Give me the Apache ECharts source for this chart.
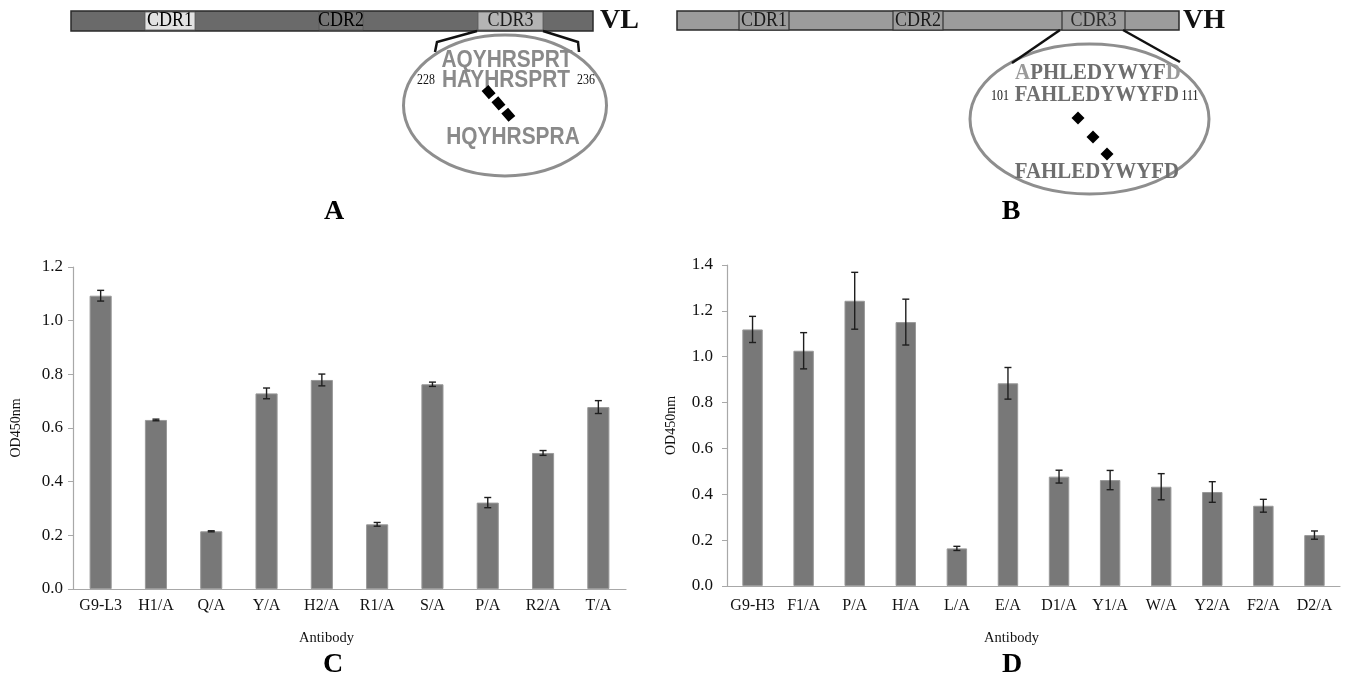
<!DOCTYPE html>
<html><head><meta charset="utf-8">
<script src="https://cdn.jsdelivr.net/npm/echarts@6/dist/echarts.min.js"></script>
<style>html,body{margin:0;padding:0;background:#fff}#c{width:1350px;height:683px}</style>
</head><body><div id="c"></div>
<script>
// Panel C data
const catsC = ['G9-L3','H1/A','Q/A','Y/A','H2/A','R1/A','S/A','P/A','R2/A','T/A'];
const valsC = [1.093,0.630,0.215,0.729,0.779,0.241,0.763,0.322,0.507,0.678];
const errC  = [0.020,0.003,0.002,0.020,0.022,0.007,0.008,0.019,0.009,0.024];
// Panel D data
const catsD = ['G9-H3','F1/A','P/A','H/A','L/A','E/A','D1/A','Y1/A','W/A','Y2/A','F2/A','D2/A'];
const valsD = [1.119,1.026,1.244,1.151,0.164,0.884,0.477,0.462,0.433,0.410,0.350,0.222];
const errD  = [0.057,0.079,0.124,0.100,0.009,0.069,0.028,0.042,0.057,0.045,0.028,0.018];
// Diagram texts
const vlSeqs = ['AQYHRSPRT','HAYHRSPRT','HQYHRSPRA'];
const vhSeqs = ['APHLEDYWYFD','FAHLEDYWYFD','FAHLEDYWYFD'];

const serif = "'Liberation Serif','Times New Roman',serif";
const sans = "'Liberation Sans',Arial,sans-serif";
const chart = echarts.init(document.getElementById('c'));

function errItem(params, api){
  const x = api.value(0), v = api.value(1), e = api.value(2);
  const t = api.coord([x, v+e]), b = api.coord([x, v-e]);
  const w = 3.5, st = {stroke:'#1e1e1e', lineWidth:1.4};
  return {type:'group', children:[
    {type:'line', shape:{x1:t[0],y1:t[1],x2:b[0],y2:b[1]}, style:st},
    {type:'line', shape:{x1:t[0]-w,y1:t[1],x2:t[0]+w,y2:t[1]}, style:st},
    {type:'line', shape:{x1:b[0]-w,y1:b[1],x2:b[0]+w,y2:b[1]}, style:st}
  ]};
}

const axisLineSt = {lineStyle:{color:'#a8a8a8', width:1.2}};
function xAx(cats, gi, gap, margin, shift){
  return {type:'category', gridIndex:gi, data:cats,
    axisLine:axisLineSt, axisTick:{length:5, lineStyle:{color:'#a8a8a8'}},
    axisLabel:{color:'#111', fontFamily:serif, fontSize:16, margin:margin, interval:0},
    name:'Antibody', nameLocation:'middle', nameGap:gap,
    nameTextStyle:{color:'#111', fontFamily:serif, fontSize:14.5, padding:[0, shift, 0, 0]}};
}
function yAx(max, gi, gap, margin){
  return {type:'value', gridIndex:gi, min:0, max:max, interval:0.2,
    axisLine:{show:true, ...axisLineSt}, axisTick:{show:true, length:5, lineStyle:{color:'#a8a8a8'}},
    splitLine:{show:false},
    axisLabel:{color:'#111', fontFamily:serif, fontSize:17, margin:margin, formatter:v=>v.toFixed(1)},
    name:'OD450nm', nameLocation:'middle', nameGap:gap, nameRotate:90,
    nameTextStyle:{color:'#111', fontFamily:serif, fontSize:14}};
}

// diagram graphics
const g = [];
function rect(x,y,w,h,fill,stroke,lw){ g.push({type:'rect', shape:{x:x,y:y,width:w,height:h}, style:{fill:fill, stroke:stroke||null, lineWidth:lw||0}}); }
function txt(s,x,y,font,fill,align,sx){ g.push({type:'text', x:x, y:y, scaleX:sx||1, style:{text:s, font:font, fill:fill, textAlign:align||'center', textVerticalAlign:'middle'}}); }
function line(pts,stroke,lw,dash){ g.push({type:'polyline', shape:{points:pts}, style:{stroke:stroke, lineWidth:lw, fill:null, lineDash:dash||null}}); }

// VL bar (A)
rect(71,11,522,20,'#6a6a6a','#2a2a2a',1.5);
rect(145,12,50,18,'#e2e2e2','#555',0.8);
rect(319,12,44,18,'#747474','#555',0.8);
rect(478,12,65,18,'#b4b4b4','#555',0.8);
txt('CDR1',170,21,'20px '+serif,'#000','center',0.9);
txt('CDR2',341,21,'20px '+serif,'#000','center',0.9);
txt('CDR3',510.5,21,'20px '+serif,'#1a1a1a','center',0.9);
txt('VL',600,21,'bold 28px '+serif,'#111','left');
g.push({type:'ellipse', shape:{cx:505,cy:105.5,rx:101.5,ry:70.5}, style:{fill:null, stroke:'#8e8e8e', lineWidth:3}});
line([[477,31],[437,42],[435,52]],'#111',2.5);
line([[543,31],[578,42],[579,52]],'#111',2.5);
txt(vlSeqs[0],507,60,'bold 24px '+sans,'#8a8a8a','center',0.87);
txt(vlSeqs[1],506,80,'bold 24px '+sans,'#8a8a8a','center',0.87);
txt(vlSeqs[2],513,137,'bold 24px '+sans,'#8a8a8a','center',0.87);
txt('228',426,80,'14px '+serif,'#111','center',0.85);
txt('236',586,80,'14px '+serif,'#111','center',0.85);
line([[485,88],[512,119]],'#000',9,[11,4]);

// VH bar (B)
rect(677,11,502,19,'#9c9c9c','#2a2a2a',1.5);
rect(739,11,50,19,'#9c9c9c','#333',1.2);
rect(893,11,50,19,'#9c9c9c','#333',1.2);
rect(1062,11,63,19,'#9c9c9c','#333',1.2);
txt('CDR1',764,21,'20px '+serif,'#1a1a1a','center',0.9);
txt('CDR2',918,21,'20px '+serif,'#1a1a1a','center',0.9);
txt('CDR3',1093.5,21,'20px '+serif,'#2a2a2a','center',0.9);
txt('VH',1183,21,'bold 28px '+serif,'#111','left');
g.push({type:'ellipse', shape:{cx:1089.5,cy:119,rx:119.5,ry:75}, style:{fill:null, stroke:'#8e8e8e', lineWidth:3}});
line([[1060,30],[1012,63]],'#111',2.5);
line([[1123,30],[1180,62]],'#111',2.5);
g.push({type:'text', x:1098, y:73, scaleX:0.87, style:{text:'{a|A}{b|'+vhSeqs[0].slice(1,-1)+'}{a|D}', textAlign:'center', textVerticalAlign:'middle',
  rich:{a:{font:'bold 24px '+serif, fill:'#9a9a9a'}, b:{font:'bold 24px '+serif, fill:'#6e6e6e'}}}});
txt(vhSeqs[1],1097,95,'bold 24px '+serif,'#6e6e6e','center',0.87);
txt(vhSeqs[2],1097,171.5,'bold 24px '+serif,'#6e6e6e','center',0.87);
txt('101',1000,96,'14px '+serif,'#111','center',0.85);
txt('111',1190,96,'14px '+serif,'#111','center',0.85);
[[1078,118],[1093,137],[1107,154]].forEach(p=>{
  const s=6.5; g.push({type:'polygon', shape:{points:[[p[0],p[1]-s],[p[0]+s,p[1]],[p[0],p[1]+s],[p[0]-s,p[1]]]}, style:{fill:'#000'}});
});
// panel letters
txt('A',334,212,'bold 28px '+serif,'#000');
txt('B',1011,212,'bold 28px '+serif,'#000');
txt('C',333,665,'bold 28px '+serif,'#000');
txt('D',1012,665,'bold 28px '+serif,'#000');

chart.setOption({
  animation:false,
  backgroundColor:'#fff',
  grid:[
    {left:73, top:267, width:553, height:322, outerBoundsMode:'none', containLabel:false},
    {left:727, top:265, width:613, height:321, outerBoundsMode:'none', containLabel:false}
  ],
  xAxis:[xAx(catsC,0,42,9,46), xAx(catsD,1,45,12,44)],
  yAxis:[yAx(1.2,0,50,10), yAx(1.4,1,49,14)],
  series:[
    {type:'bar', xAxisIndex:0, yAxisIndex:0, data:valsC, barWidth:'40%', itemStyle:{color:'#787878', borderColor:'#999', borderWidth:1}},
    {type:'custom', xAxisIndex:0, yAxisIndex:0, renderItem:errItem, encode:{x:0,y:1}, z:5,
      data:catsC.map((c,i)=>[i,valsC[i],errC[i]])},
    {type:'bar', xAxisIndex:1, yAxisIndex:1, data:valsD, barWidth:'40%', itemStyle:{color:'#787878', borderColor:'#999', borderWidth:1}},
    {type:'custom', xAxisIndex:1, yAxisIndex:1, renderItem:errItem, encode:{x:0,y:1}, z:5,
      data:catsD.map((c,i)=>[i,valsD[i],errD[i]])}
  ],
  graphic:g
});
</script></body></html>
